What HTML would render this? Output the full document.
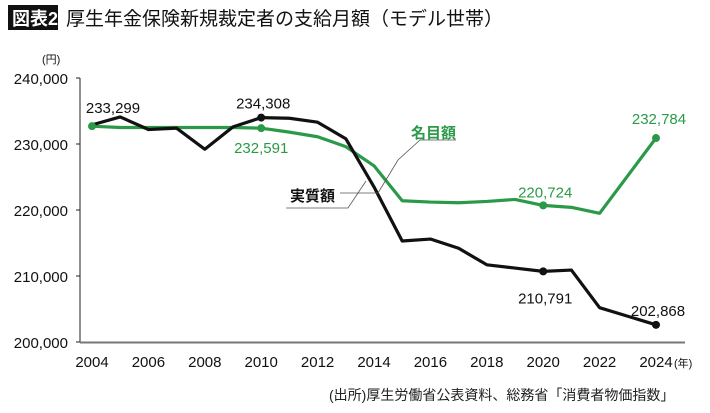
<!DOCTYPE html>
<html><head><meta charset="utf-8"><style>
body{margin:0;background:#fff;width:710px;height:408px;overflow:hidden;font-family:"Liberation Sans","Noto Sans CJK JP",sans-serif}
svg text{font-family:"Liberation Sans","Noto Sans CJK JP",sans-serif}
</style></head><body>
<svg id="c" width="710" height="408">
<rect x="8" y="5" width="50" height="25" fill="#111"/>
<text x="12" y="25" font-size="18" font-weight="bold" fill="#fff">図表2</text>
<text x="66" y="25" font-size="19" fill="#111">厚生年金保険新規裁定者の支給月額（モデル世帯）</text>
<text x="42" y="63" font-size="11" fill="#111">(円)</text>
<text x="329" y="400" font-size="14" fill="#222">(出所)厚生労働省公表資料、総務省「消費者物価指数」</text>
<text x="674" y="367" font-size="11" fill="#111">(年)</text>
<g id="axes"></g><g id="series"></g>
<polyline points="340,193 378,193 398,160 420,140 456,140" fill="none" stroke="#555" stroke-width="0.8"/>
<text x="411" y="138" font-size="15" font-weight="bold" fill="#2a9a48">名目額</text>
<polyline points="286,208 348,208 366,181" fill="none" stroke="#555" stroke-width="0.8"/>
<text x="290" y="201" font-size="15" font-weight="bold" fill="#111">実質額</text>
</svg>
<script>
const years=[2004,2005,2006,2007,2008,2009,2010,2011,2012,2013,2014,2015,2016,2017,2018,2019,2020,2021,2022,2023,2024];
const nominal=[232.7,232.5,232.5,232.5,232.5,232.5,232.4,231.8,231.1,229.6,226.7,221.4,221.2,221.1,221.3,221.6,220.7,220.4,219.5,225.2,230.9];
const real=[232.9,234.1,232.2,232.4,229.2,232.6,234.0,233.9,233.3,230.8,223.5,215.3,215.6,214.2,211.7,211.2,210.7,210.9,205.2,203.9,202.6];
const yTicks=[200,210,220,230,240];
const yTickLabels=["200,000","210,000","220,000","230,000","240,000"];
const xTicks=[2004,2006,2008,2010,2012,2014,2016,2018,2020,2022,2024];
const nominalMarks=[[2004,null],[2010,"232,591"],[2020,"220,724"],[2024,"232,784"]];
const realMarks=[[2004,"233,299"],[2010,"234,308"],[2020,"210,791"],[2024,"202,868"]];
const NS="http://www.w3.org/2000/svg";
const X=y=>92+(y-2004)*28.2, Y=v=>342-(v-200)*6.6;
function mk(t,a,p){const e=document.createElementNS(NS,t);for(const k in a)e.setAttribute(k,a[k]);p.appendChild(e);return e;}
const ax=document.getElementById('axes'),se=document.getElementById('series');
const yl=mk('line',{x1:80,y1:Y(240),x2:80,y2:342,stroke:'#222','stroke-width':1},ax);


const xl=mk('line',{x1:80,y1:342.5,x2:685,y2:342.5,stroke:'#777','stroke-width':2},ax);


yTicks.forEach((v,i)=>{
 const t=mk('line',{x1:76,y1:Y(v),x2:80,y2:Y(v),stroke:'#222'},ax);
 
 
 const l=mk('text',{x:68,y:Y(v)+6,'font-size':15,'text-anchor':'end',fill:'#111'},ax);l.textContent=yTickLabels[i];
 
 
});
xTicks.forEach(y=>{
 const l=mk('text',{x:X(y),y:367,'font-size':15,'text-anchor':'middle',fill:'#111'},ax);l.textContent=y;
 
 
});
function line(vals,col,name){
 const p=mk('polyline',{points:vals.map((v,i)=>X(years[i])+','+Y(v)).join(' '),fill:'none',stroke:col,'stroke-width':3.2,'stroke-linejoin':'round'},se);
 
 
}
line(nominal,'#2a9a48','nominal-line');
line(real,'#111','real-line');
function marks(list,vals,col,name,offs,skipFirstDot){
 list.forEach((m,i)=>{
  const v=vals[years.indexOf(m[0])];
  if(!(skipFirstDot&&i===0)){
  const c=mk('circle',{cx:X(m[0]),cy:Y(v),r:4,fill:col},se);
  
  }
  if(m[1]){const t=mk('text',{x:X(m[0])+offs[i][0],y:Y(v)+offs[i][1],'font-size':15,'text-anchor':'middle',fill:col},se);t.textContent=m[1];
  
  }
 });
}
marks(realMarks,real,'#111','real',[[21,-12],[2,-9],[2,32],[2,-9]],true);
marks(nominalMarks,nominal,'#2a9a48','nominal',[[0,0],[0,25],[2,-8],[3,-14]],false);
</script>
</body></html>
